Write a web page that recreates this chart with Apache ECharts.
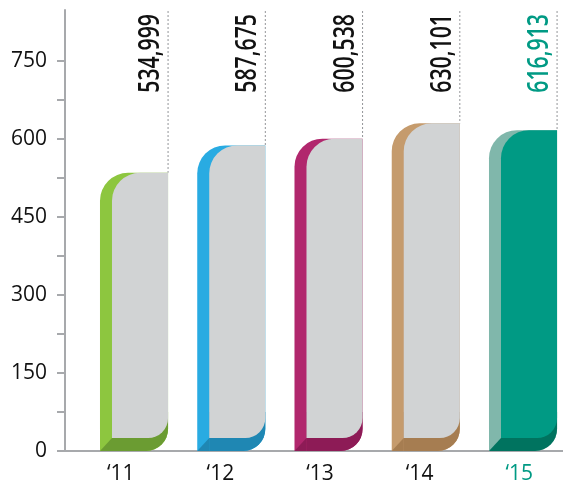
<!DOCTYPE html>
<html>
<head>
<meta charset="utf-8">
<script src="https://cdn.jsdelivr.net/npm/echarts@6/dist/echarts.min.js"></script>
<style>
  html, body { margin: 0; padding: 0; background: #ffffff; }
  #chart { width: 563px; height: 490px; }
</style>
</head>
<body>
<div id="chart"></div>
<script>
// Yearly totals, in thousands
const years = ['\u201811', '\u201812', '\u201813', '\u201814', '\u201815'];
const totals = [534.999, 587.675, 600.538, 630.101, 616.913];
const totalLabels = ['534,999', '587,675', '600,538', '630,101', '616,913'];

// Axis ticks and labels
const yLabelValues = [0, 150, 300, 450, 600, 750];
const yTickValues = [0, 75, 150, 225, 300, 375, 450, 525, 600, 675, 750];

// Per-year colours: side strip, base shadow, front face, label text
const sideColors = ['#8dc63f', '#29abe2', '#b1276d', '#c59b6d', '#80b7ab'];
const baseColors = ['#6b9c32', '#1f87b3', '#8d1b56', '#a67d51', '#00735f'];
const faceColors = ['#d1d3d4', '#d1d3d4', '#d1d3d4', '#d1d3d4', '#009a84'];
const textColors = ['#111111', '#111111', '#111111', '#111111', '#009a84'];

const FONT = '"Open Sans", "DejaVu Sans", sans-serif';
const AXIS_GREY = '#a7a9ac';
const Y_MAX = 848;

const chart = echarts.init(document.getElementById('chart'), null, { renderer: 'canvas' });

function renderBar(params, api) {
  const i = api.value(0);
  const v = api.value(1);
  const topPt = api.coord([i, v]);
  const base = api.coord([i, 0])[1];
  const band = api.size([1, 0])[0];
  const w = band * 0.7;
  const L = topPt[0] - w / 2;
  const R = topPt[0] + w / 2;
  const top = topPt[1];
  const side = 12;      // width of the coloured side strip
  const foot = 13;      // height of the shadowed base
  const gridTop = params.coordSys.y;

  return {
    type: 'group',
    children: [
      {
        type: 'line',
        shape: { x1: R, y1: gridTop + 1, x2: R, y2: top },
        style: { stroke: '#939598', lineWidth: 1, lineDash: [2, 2] }
      },
      {
        type: 'rect',
        shape: { x: L, y: top, width: R - L, height: base - top, r: [28, 0, 22, 0] },
        style: { fill: sideColors[i] }
      },
      {
        type: 'rect',
        shape: { x: L + side, y: base - foot - 26, width: R - L - side, height: foot + 26, r: [0, 0, 22, 0] },
        style: { fill: baseColors[i] }
      },
      {
        type: 'polygon',
        shape: { points: [[L, base], [L + side, base - foot], [L + side, base]] },
        style: { fill: baseColors[i] }
      },
      {
        type: 'rect',
        shape: { x: L + side, y: top, width: R - L - side, height: base - foot - top, r: [28, 0, 20, 0] },
        style: { fill: faceColors[i] }
      },
      {
        type: 'text',
        x: R - 17,
        y: gridTop + 4,
        rotation: Math.PI / 2,
        scaleX: 0.76,
        style: {
          text: totalLabels[i],
          fill: textColors[i],
          font: '600 28px ' + FONT,
          align: 'right',
          verticalAlign: 'middle'
        }
      }
    ]
  };
}

const option = {
  animation: false,
  grid: [
    { left: 65, right: 0, top: 10, bottom: 39, containLabel: false, outerBoundsMode: 'none' },
    { left: 85.4, width: 486.25, top: 10, bottom: 39, containLabel: false, outerBoundsMode: 'none' }
  ],
  xAxis: [
    {
      type: 'category',
      gridIndex: 0,
      data: years,
      axisLine: { show: true, lineStyle: { color: AXIS_GREY, width: 2 } },
      axisTick: { show: false },
      axisLabel: {
        margin: 13,
        fontFamily: FONT,
        fontSize: 21,
        padding: [0, 0, 0, 12],
        color: function (value, index) { return textColors[index]; }
      }
    },
    {
      type: 'category',
      gridIndex: 1,
      data: years,
      show: false
    }
  ],
  yAxis: [
    {
      type: 'value',
      gridIndex: 0,
      min: 0,
      max: Y_MAX,
      splitLine: { show: false },
      axisLine: { show: true, lineStyle: { color: AXIS_GREY, width: 2 } },
      axisTick: {
        show: true,
        length: 8,
        customValues: yTickValues,
        lineStyle: { color: AXIS_GREY, width: 2 }
      },
      axisLabel: {
        customValues: yLabelValues,
        margin: 18,
        fontFamily: FONT,
        fontSize: 21,
        color: '#111111'
      }
    },
    {
      type: 'value',
      gridIndex: 1,
      min: 0,
      max: Y_MAX,
      show: false
    }
  ],
  series: [
    {
      type: 'custom',
      xAxisIndex: 1,
      yAxisIndex: 1,
      renderItem: renderBar,
      data: totals.map(function (v, i) { return [i, v]; })
    }
  ]
};

chart.setOption(option);
</script>
</body>
</html>
